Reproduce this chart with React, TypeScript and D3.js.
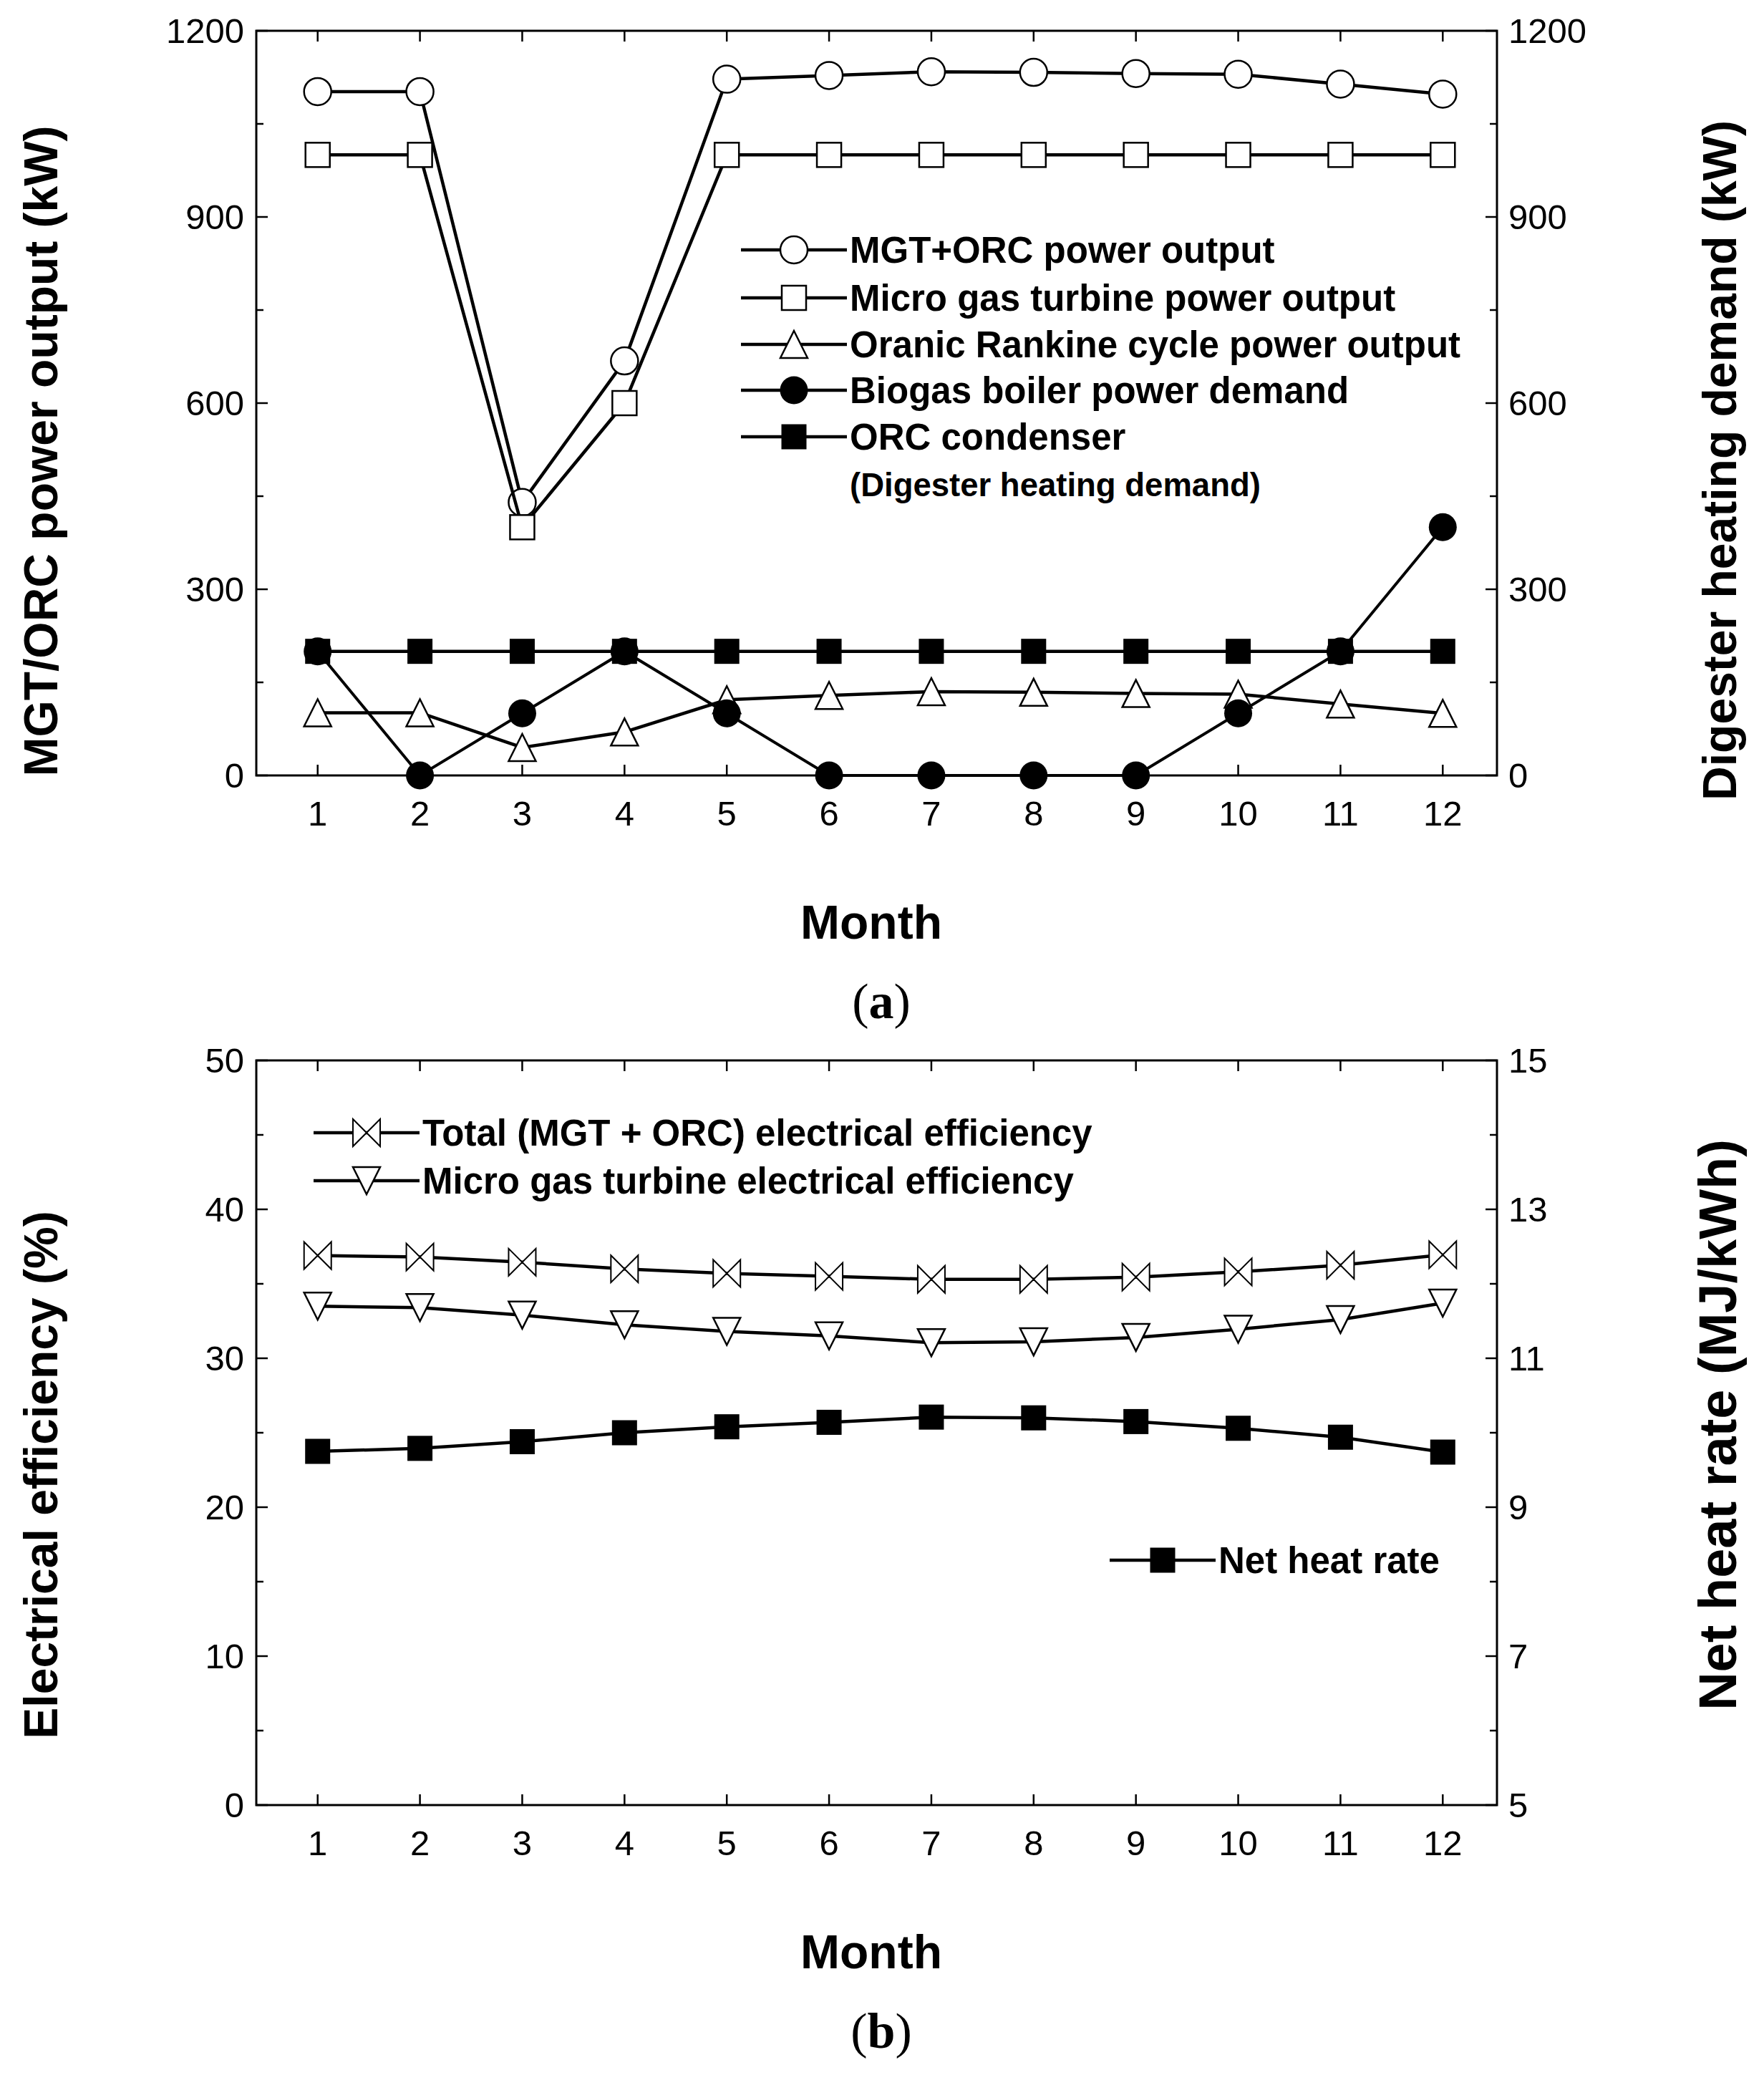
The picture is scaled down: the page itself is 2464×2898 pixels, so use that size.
import React from 'react';
import * as d3 from 'd3';

// ---- data ----
const months = [1, 2, 3, 4, 5, 6, 7, 8, 9, 10, 11, 12];

// panel (a), kW
const mgtOrcPower = [1102, 1102, 440, 668, 1122, 1128, 1134, 1133, 1131, 1130, 1114, 1098];
const mgtPower = [1000, 1000, 400, 600, 1000, 1000, 1000, 1000, 1000, 1000, 1000, 1000];
const orcPower = [101, 101, 45, 70, 122, 129, 135, 134, 132, 131, 115, 100];
const boilerDemand = [200, 0, 100, 200, 100, 0, 0, 0, 0, 100, 200, 400];
const condenserHeat = [200, 200, 200, 200, 200, 200, 200, 200, 200, 200, 200, 200];

// panel (b)
const totalEff = [36.9, 36.8, 36.45, 36.0, 35.7, 35.5, 35.3, 35.3, 35.45, 35.8, 36.25, 36.95];
const mgtEff = [33.5, 33.4, 32.9, 32.25, 31.8, 31.5, 31.05, 31.1, 31.4, 31.95, 32.6, 33.7];
const netHeatRate = [9.75, 9.79, 9.88, 10.0, 10.08, 10.14, 10.21, 10.2, 10.15, 10.06, 9.94, 9.74];

const aTicks = [0, 300, 600, 900, 1200];
const aMinor = [150, 450, 750, 1050];
const bLeftTicks = [0, 10, 20, 30, 40, 50];
const bLeftMinor = [5, 15, 25, 35, 45];
const bRightTicks = [5, 7, 9, 11, 13, 15];
const bRightMinor = [6, 8, 10, 12, 14];

const legendA = [
  { label: 'MGT+ORC power output', marker: 'circle' },
  { label: 'Micro gas turbine power output', marker: 'square' },
  { label: 'Oranic Rankine cycle power output', marker: 'triangle' },
  { label: 'Biogas boiler power demand', marker: 'dot' },
  { label: 'ORC condenser', marker: 'block' },
];

const SANS = 'Liberation Sans, Arial, Helvetica, sans-serif';
const SERIF = 'Liberation Serif, Times New Roman, serif';

const X0 = 358;
const X1 = 2091;
const x = d3.scaleLinear().domain([0.4, 12.53]).range([X0, X1]);

const A_TOP = 43, A_BOT = 1083;
const B_TOP = 1481, B_BOT = 2521;
const yA = d3.scaleLinear().domain([0, 1200]).range([A_BOT, A_TOP]);
const yB = d3.scaleLinear().domain([0, 50]).range([B_BOT, B_TOP]);
const yBR = d3.scaleLinear().domain([5, 15]).range([B_BOT, B_TOP]);

const Marker = ({ type, cx, cy }: { type: string; cx: number; cy: number }) => {
  const sw = 2.5;
  switch (type) {
    case 'circle':
      return <circle cx={cx} cy={cy} r={19} fill="#fff" stroke="#000" strokeWidth={sw} />;
    case 'dot':
      return <circle cx={cx} cy={cy} r={19.5} fill="#000" />;
    case 'square':
      return <rect x={cx - 17} y={cy - 17} width={34} height={34} fill="#fff" stroke="#000" strokeWidth={sw} />;
    case 'block':
      return <rect x={cx - 17.5} y={cy - 17.5} width={35} height={35} fill="#000" />;
    case 'triangle': {
      const h = 19;
      return <path d={`M${cx},${cy - h}L${cx + h},${cy + h}L${cx - h},${cy + h}Z`} fill="#fff" stroke="#000" strokeWidth={sw} />;
    }
    case 'down': {
      const h = 19;
      return <path d={`M${cx - h},${cy - h}L${cx + h},${cy - h}L${cx},${cy + h}Z`} fill="#fff" stroke="#000" strokeWidth={sw} />;
    }
    case 'bowtie': {
      const h = 19;
      return <path d={`M${cx - h},${cy - h}L${cx - h},${cy + h}L${cx + h},${cy - h}L${cx + h},${cy + h}Z`} fill="#fff" stroke="#000" strokeWidth={2} strokeLinejoin="miter" />;
    }
    default:
      return null;
  }
};

const Series = ({ values, y, marker, width = 4.5 }: { values: number[]; y: d3.ScaleLinear<number, number>; marker: string; width?: number }) => {
  const line = d3.line<number>().x((_, i) => x(months[i])).y(d => y(d));
  return (
    <g>
      <path d={line(values) || ''} fill="none" stroke="#000" strokeWidth={width} />
      {values.map((v, i) => <Marker key={i} type={marker} cx={x(months[i])} cy={y(v)} />)}
    </g>
  );
};

const Frame = ({ top, bot, yl, yr, lTicks, lMinor, rTicks, rMinor, lTitle, rTitle, lTitleY, rTitleY, rTitleSize }: any) => (
  <g>
    <rect x={X0} y={top} width={X1 - X0} height={bot - top} fill="none" stroke="#000" strokeWidth={3} />
    {months.map(m => (
      <g key={m}>
        <line x1={x(m)} x2={x(m)} y1={bot} y2={bot - 15} stroke="#000" strokeWidth={2.5} />
        <line x1={x(m)} x2={x(m)} y1={top} y2={top + 15} stroke="#000" strokeWidth={2.5} />
        <text x={x(m)} y={bot + 70} textAnchor="middle" fontFamily={SANS} fontSize={49}>{m}</text>
      </g>
    ))}
    {lTicks.map((t: number) => (
      <g key={t}>
        <line x1={X0} x2={X0 + 16} y1={yl(t)} y2={yl(t)} stroke="#000" strokeWidth={2.5} />
        <text x={X0 - 17} y={yl(t) + 17} textAnchor="end" fontFamily={SANS} fontSize={49}>{t}</text>
      </g>
    ))}
    {lMinor.map((t: number) => (
      <line key={t} x1={X0} x2={X0 + 10} y1={yl(t)} y2={yl(t)} stroke="#000" strokeWidth={2.5} />
    ))}
    {rTicks.map((t: number) => (
      <g key={t}>
        <line x1={X1} x2={X1 - 16} y1={yr(t)} y2={yr(t)} stroke="#000" strokeWidth={2.5} />
        <text x={X1 + 16} y={yr(t) + 17} textAnchor="start" fontFamily={SANS} fontSize={49}>{t}</text>
      </g>
    ))}
    {rMinor.map((t: number) => (
      <line key={t} x1={X1} x2={X1 - 10} y1={yr(t)} y2={yr(t)} stroke="#000" strokeWidth={2.5} />
    ))}
    <text transform={`translate(80,${lTitleY}) rotate(-90)`} textAnchor="middle" fontFamily={SANS} fontWeight="bold" fontSize={66}>{lTitle}</text>
    <text transform={`translate(2425,${rTitleY}) rotate(-90)`} textAnchor="middle" fontFamily={SANS} fontWeight="bold" fontSize={rTitleSize}>{rTitle}</text>
    <text x={1217} y={bot + 228} textAnchor="middle" fontFamily={SANS} fontWeight="bold" fontSize={66}>Month</text>
  </g>
);

const LegendRow = ({ xLine, yRow, marker, label }: { xLine: number; yRow: number; marker: string; label: string }) => (
  <g>
    <line x1={xLine} x2={xLine + 148} y1={yRow} y2={yRow} stroke="#000" strokeWidth={4.5} />
    <Marker type={marker} cx={xLine + 74} cy={yRow} />
    <text x={xLine + 152} y={yRow + 18} fontFamily={SANS} fontWeight="bold" fontSize={51}>{label}</text>
  </g>
);

export default function App() {
  const legendRowsA = [349, 416, 481, 545, 610];
  return (
    <>
      <style>{'body{margin:0}'}</style>
      <svg width={2464} height={2898} viewBox="0 0 2464 2898" style={{ display: 'block', background: '#fff' }}>
        <rect width={2464} height={2898} fill="#fff" />

        {/* panel (a) */}
        <Frame top={A_TOP} bot={A_BOT} yl={yA} yr={yA} lTicks={aTicks} lMinor={aMinor} rTicks={aTicks} rMinor={aMinor}
          lTitle="MGT/ORC power output (kW)" rTitle="Digester heating demand (kW)" lTitleY={630} rTitleY={643} rTitleSize={66} />
        <Series values={mgtOrcPower} y={yA} marker="circle" />
        <Series values={mgtPower} y={yA} marker="square" />
        <Series values={orcPower} y={yA} marker="triangle" />
        <Series values={boilerDemand} y={yA} marker="dot" width={4} />
        <Series values={condenserHeat} y={yA} marker="block" />
        {legendA.map((d, i) => (
          <LegendRow key={d.label} xLine={1035} yRow={legendRowsA[i]} marker={d.marker} label={d.label} />
        ))}
        <text x={1187} y={693} fontFamily={SANS} fontWeight="bold" fontSize={45.5}>(Digester heating demand)</text>
        <text x={1231} y={1422} textAnchor="middle" fontFamily={SERIF} fontSize={70}>(<tspan fontWeight="bold">a</tspan>)</text>

        {/* panel (b) */}
        <Frame top={B_TOP} bot={B_BOT} yl={yB} yr={yBR} lTicks={bLeftTicks} lMinor={bLeftMinor} rTicks={bRightTicks} rMinor={bRightMinor}
          lTitle="Electrical efficiency (%)" rTitle="Net heat rate (MJ/kWh)" lTitleY={2060} rTitleY={1990} rTitleSize={74} />
        <Series values={totalEff} y={yB} marker="bowtie" />
        <Series values={mgtEff} y={yB} marker="down" />
        <Series values={netHeatRate} y={yBR} marker="block" />
        <LegendRow xLine={438} yRow={1582} marker="bowtie" label="Total (MGT + ORC) electrical efficiency" />
        <LegendRow xLine={438} yRow={1649} marker="down" label="Micro gas turbine electrical efficiency" />
        <LegendRow xLine={1550} yRow={2179} marker="block" label="Net heat rate" />
        <text x={1231} y={2860} textAnchor="middle" fontFamily={SERIF} fontSize={70}>(<tspan fontWeight="bold">b</tspan>)</text>
      </svg>
    </>
  );
}
